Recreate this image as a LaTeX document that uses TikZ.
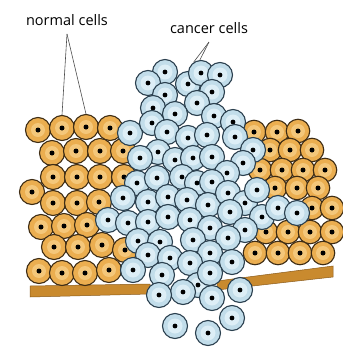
\documentclass[tikz,border=0pt]{standalone}
\usepackage{fontspec}
\setmainfont{Open Sans}
\begin{document}
\begin{tikzpicture}[x=1pt,y=-1pt]
\definecolor{normfill}{HTML}{EBAE50}
\definecolor{norminner}{HTML}{F4C77A}
\definecolor{normedge}{HTML}{3E2C14}
\definecolor{cancfill}{HTML}{C2DDEA}
\definecolor{cancinner}{HTML}{DDEEF6}
\definecolor{cancedge}{HTML}{2A3F4E}
\definecolor{barfill}{HTML}{C98A2E}
\definecolor{baredge}{HTML}{8A5A1A}
\tikzset{
  normcell/.style={circle, inner sep=0pt, minimum size=#1, line width=1.1pt,
    draw=normedge, fill=normfill,
    path picture={
      \fill[norminner] (path picture bounding box.center) circle (7pt);
      \fill[black] (path picture bounding box.center) circle (2.5pt);}},
  normcell/.default=25pt,
  canccell/.style={circle, inner sep=0pt, minimum size=25pt, line width=1.1pt,
    draw=cancedge, fill=cancfill,
    path picture={
      \fill[cancinner] (path picture bounding box.center) circle (7.5pt);
      \fill[black] (path picture bounding box.center) circle (2.4pt);}},
  basement/.style={fill=barfill, draw=baredge, line width=0.5pt},
  label/.style={font=\fontsize{14.5pt}{16pt}\selectfont, inner sep=0pt, anchor=base},
  pointer/.style={draw=black!70, line width=0.6pt}
}
\useasboundingbox (0,0) rectangle (343,349);

% basement membrane under both tissues
\path[basement] (30,286) -- (150,284) -- (150,294) -- (30,297) -- cycle;
\path[basement] (217,281) -- (333,266) -- (333,277) -- (217,290) -- cycle;

% normal tissue, left block
\foreach \px/\py [count=\i] in {
  38/130, 62/128, 86/127, 110/128,
  52/153, 76/151, 100/151, 123/151,
  53/177, 77/177, 100/177, 124/177,
  32/192,
  53/203, 77/203, 99/202,
  41/227, 64/226, 87/225,
  54/247, 78/247, 102/245, 125/250,
  39/271, 62/273, 85/273, 109/270}
  \node[normcell] (nl\i) at (\px,\py) {};

% normal tissue, right block
\foreach \px/\py [count=\i] in {
  254/132, 277/132, 298/131,
  270/150, 290/150, 312/150,
  260/170, 282/170, 303/170, 325/170,
  275/188, 297/188, 318/188,
  312/208, 332/208,
  266/232, 288/232, 310/232, 332/232,
  255/253, 278/253, 300/253, 323/253}
  \node[normcell=23.5pt] (nr\i) at (\px,\py) {};

% tumour mass
\foreach \px/\py [count=\i] in {
  165/72, 148/83, 188/84, 201/73, 220/75,
  165/95, 212/92, 153/108, 197/103, 175/114, 214/116, 233/122,
  130/133, 152/123, 167/132, 188/138, 207/135, 235/137,
  158/152, 140/158, 175/160, 193/158, 212/157, 253/150, 243/163, 227/173,
  137/183, 157/178, 182/177, 197/183, 212/182,
  123/198, 148/202, 168/197, 187/200, 208/205, 228/193, 245/203, 257/190,
  230/212, 262/217, 278/208, 297/213,
  108/220, 128/223, 148/222, 168/217, 190/220, 210/228, 245/230,
  138/241, 160/242, 193/240, 228/238,
  148/255, 170/258, 210/253, 232/262, 190/263,
  133/270, 162/275, 198/285, 210/273,
  183/292, 159/295, 212/298, 240/290,
  175/326, 208/333, 232/318}
  \node[canccell] (c\i) at (\px,\py) {};

% labels and pointers
\node[label] (normlab) at (67,25) {normal cells};
\node[label] (canclab) at (209,33) {cancer cells};
\coordinate (normtip) at ([yshift=-9pt]normlab.base);
\coordinate (canctip) at ([yshift=-9pt]canclab.base);
\draw[pointer] (normtip) -- (nl2.north);
\draw[pointer] (normtip) -- (nl3.north);
\draw[pointer] (canctip) -- (c4.125);
\draw[pointer] (canctip) -- (c4.95);
\end{tikzpicture}
\end{document}
